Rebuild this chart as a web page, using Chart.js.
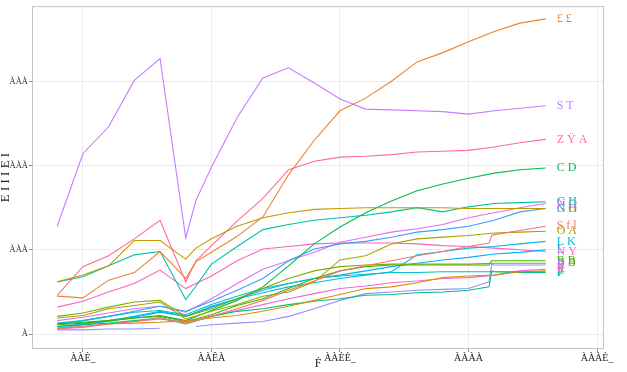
<!DOCTYPE html>
<html>
<head>
<meta charset="utf-8">
<script src="https://cdn.jsdelivr.net/npm/chart.js@4/dist/chart.umd.min.js"></script>
<style>
  html, body { margin: 0; padding: 0; background: #fff; }
</style>
</head>
<body>
<canvas id="chart" width="627" height="372"></canvas>
<script>
// x positions (some series have extra points at 1999.4 and around the 2010 step)
const years = [1994, 1995, 1996, 1997, 1998, 1999, 1999.4, 2000, 2001, 2002, 2003, 2004,
               2005, 2006, 2007, 2008, 2009, 2010, 2010.8, 2010.9, 2011, 2012, 2013];
const n = null;

const orangeVals  = [450, 430, 640, 730, 980, 660, 860, 970, 1160, 1390, 1890, 2300, 2650, 2800, 3000, 3230, 3340, 3470, n, n, 3590, 3690, 3740];
const purpleVals  = [1280, 2140, 2460, 3010, 3270, 1140, 1590, 1980, 2570, 3040, 3160, 2980, 2790, 2670, 2660, 2650, 2640, 2610, n, n, 2650, 2680, 2710];
const pinkVals    = [460, 800, 930, 1130, 1350, 620, 870, 1050, 1340, 1610, 1950, 2050, 2100, 2110, 2130, 2160, 2170, 2180, n, n, 2220, 2270, 2310];
const goldVals    = [620, 700, 810, 1110, 1110, 890, 1020, 1130, 1280, 1380, 1440, 1480, 1490, 1500, 1500, 1500, 1500, 1490, n, n, 1490, 1490, 1490];
const tealVals    = [620, 680, 810, 940, 980, 410, 570, 830, 1040, 1240, 1300, 1350, 1380, 1410, 1450, 1500, 1450, 1510, n, n, 1550, 1560, 1570];
const greenVals   = [120, 140, 160, 190, 220, 160, n, 280, 400, 560, 810, 1070, 1270, 1440, 1580, 1700, 1780, 1850, n, n, 1910, 1950, 1970];
const blueVals    = [120, 160, 210, 270, 330, 270, n, 390, 520, 660, 870, 1010, 1070, 1100, 1150, 1210, 1240, 1280, n, n, 1350, 1450, 1490];
const violetVals  = [160, 200, 250, 300, 330, 260, n, 420, 600, 770, 870, 970, 1090, 1150, 1210, 1250, 1300, 1380, n, n, 1440, 1500, 1550];
const magentaVals = [320, 390, 500, 600, 760, 540, n, 690, 870, 1010, 1040, 1070, 1080, 1080, 1080, 1070, 1050, 1040, n, n, 1020, 1000, 980];
const oliveVals   = [190, 220, 300, 340, 380, 180, n, 270, 350, 450, 500, 620, 880, 930, 1070, 1130, 1150, 1170, n, n, 1200, 1210, 1220];
const salmonVals  = [70, 90, 120, 150, 190, 130, n, 210, 300, 400, 520, 630, 750, 810, 870, 930, 980, 1040, 1080, 1170, 1180, 1230, 1280];
const cyanVals    = [70, 110, 160, 210, 270, 210, n, 330, 420, 490, 560, 610, 660, 700, 740, 940, 980, 1020, n, n, 1040, 1070, 1100];
const skyVals     = [90, 120, 150, 200, 260, 210, n, 320, 420, 520, 600, 660, 700, 750, 800, 840, 880, 910, n, n, 950, 970, 1000];
const leafVals    = [110, 130, 160, 190, 210, 150, n, 230, 340, 420, 540, 660, 750, 800, 820, 820, 820, 820, 820, 870, 870, 870, 870];
const limeVals    = [210, 250, 320, 380, 400, 210, n, 300, 420, 540, 660, 750, 800, 820, 830, 830, 830, 830, n, n, 840, 840, 840];
const lavenderVals = [50, 50, 60, 60, 70, n, 90, 110, 130, 150, 210, 300, 400, 480, 500, 520, 530, 540, 620, 830, 820, 820, 820];
const amberVals   = [70, 90, 120, 130, 140, 160, n, 190, 220, 270, 330, 400, 470, 540, 560, 610, 670, 690, n, n, 700, 740, 750];
const jadeVals    = [90, 110, 130, 160, 190, 120, n, 210, 270, 300, 350, 390, 420, 460, 470, 490, 500, 520, 560, 750, 740, 730, 730];
const aquaVals    = [130, 160, 210, 260, 280, 230, n, 350, 450, 540, 600, 660, 690, 710, 730, 730, 740, 740, n, n, 740, 740, 740];
const roseVals    = [60, 80, 120, 150, 180, 140, n, 210, 280, 350, 420, 480, 540, 570, 610, 630, 660, 670, n, n, 700, 750, 770];

const seriesValues = [salmonVals, orangeVals, amberVals, goldVals, oliveVals, limeVals, leafVals, greenVals,
                      jadeVals, tealVals, aquaVals, cyanVals, skyVals, blueVals, lavenderVals, purpleVals,
                      violetVals, roseVals, magentaVals, pinkVals];
const seriesLabels = ['S f l', '£ £', 'E', 'G H', 'O A', 'B B', 'B B', 'C D',
                      'P', 'G H', 'P', 'L K', 'L', 'N O', 'R', 'S T',
                      'N O', 'R', 'N Y', 'Z Ÿ A'];
const seriesColors = ['#F8766D', '#EA8331', '#D89000', '#C09B00', '#A3A500', '#7CAE00', '#39B600', '#00BB4E',
                      '#00BF7D', '#00C1A3', '#00BFC4', '#00BAE0', '#00B0F6', '#35A2FF', '#9590FF', '#C77CFF',
                      '#E76BF3', '#FA62DB', '#FF62BC', '#FF6C91'];

const xTickValues = [1995, 2000, 2005, 2010, 2015];
const xTickLabels = ['ÀÀÈ_', 'ÀÀÊÀ', 'ÀÀÈÈ_', 'ÀÀÀÀ', 'ÀÀÀÈ_'];
const yTickValues = [0, 1000, 2000, 3000];
const yTickLabels = ['À', 'ÀÀÀ', 'ÀÀÀ', 'ÀÀÀ'];

// etiquetas al final de cada línea
const endLabels = {
    id: 'endLabels',
    afterDatasetsDraw(chart) {
        const ctx = chart.ctx;
        ctx.save();
        ctx.font = '12px "Liberation Serif"';
        ctx.textBaseline = 'middle';
        chart.data.datasets.forEach((ds, i) => {
            const pts = chart.getDatasetMeta(i).data;
            const last = pts[pts.length - 1];
            ctx.fillStyle = ds.borderColor;
            ctx.fillText(ds.label, last.x + 11, last.y);
        });
        ctx.restore();
    }
};

// borde del panel
const panelBorder = {
    id: 'panelBorder',
    afterDraw(chart) {
        const a = chart.chartArea;
        const ctx = chart.ctx;
        ctx.save();
        ctx.strokeStyle = '#c4c4c4';
        ctx.lineWidth = 1;
        ctx.strokeRect(a.left + 0.5, a.top + 0.5, a.right - a.left - 1, a.bottom - a.top - 1);
        ctx.restore();
    }
};

const datasets = seriesValues.map((vals, i) => ({
    label: seriesLabels[i],
    data: years.map((x, j) => ({ x: x, y: vals[j] })),
    borderColor: seriesColors[i],
    backgroundColor: seriesColors[i],
    borderWidth: 1.1,
    pointRadius: 0,
    tension: 0,
    spanGaps: vals !== lavenderVals
}));

new Chart(document.getElementById('chart'), {
    type: 'line',
    data: { datasets },
    options: {
        responsive: false,
        animation: false,
        layout: { padding: { left: 0, right: 23, top: 4, bottom: 0 } },
        plugins: { legend: { display: false }, tooltip: { enabled: false } },
        scales: {
            x: {
                type: 'linear',
                min: 1993.02,
                max: 2015.27,
                afterFit: s => { s.height = 23; },
                afterBuildTicks: s => { s.ticks = xTickValues.map(v => ({ value: v })); },
                grid: { color: '#EBEBEB', tickColor: '#8a8a8a', tickLength: 3 },
                border: { display: false },
                ticks: {
                    padding: 0,
                    maxRotation: 0,
                    color: '#222',
                    font: { family: 'Liberation Serif', size: 10 },
                    callback: (v, i) => xTickLabels[i]
                },
                title: { display: true, text: 'Ḟ', color: '#222', font: { family: 'Liberation Serif', size: 12 }, padding: { top: 0, bottom: 1 } }
            },
            y: {
                min: -177,
                max: 3892,
                afterFit: s => { s.width = 32; },
                afterBuildTicks: s => { s.ticks = yTickValues.map(v => ({ value: v })); },
                grid: { color: '#EBEBEB', tickColor: '#8a8a8a', tickLength: 3 },
                border: { display: false },
                ticks: {
                    padding: 1,
                    color: '#222',
                    font: { family: 'Liberation Serif', size: 8.5 },
                    callback: (v, i) => yTickLabels[i]
                },
                title: { display: true, text: 'Ε Ι Ι Ι Ε Ι', color: '#222', font: { family: 'Liberation Serif', size: 13 }, padding: { top: -2, bottom: 0 } }
            }
        }
    },
    plugins: [endLabels, panelBorder]
});
</script>
</body>
</html>
